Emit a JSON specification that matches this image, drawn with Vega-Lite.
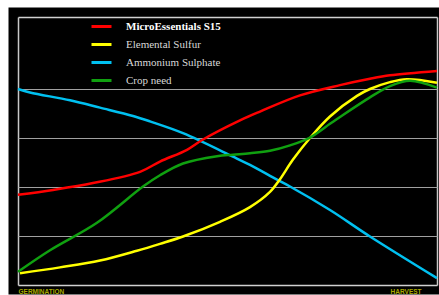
{
  "$schema": "https://vega.github.io/schema/vega-lite/v6.json",
  "width": 419,
  "height": 268,
  "autosize": {"type": "none"},
  "padding": {"left": 18, "top": 17, "right": 2, "bottom": 10},
  "background": "white",
  "config": {"view": {"fill": "black", "stroke": "black", "strokeWidth": 19}},
  "data": {"values": [
    {"series": "Ammonium Sulphate", "t": 0, "v": 4.0},
    {"series": "Ammonium Sulphate", "t": 2.86, "v": 3.93},
    {"series": "Ammonium Sulphate", "t": 12.41, "v": 3.77},
    {"series": "Ammonium Sulphate", "t": 19.57, "v": 3.62},
    {"series": "Ammonium Sulphate", "t": 27.45, "v": 3.45},
    {"series": "Ammonium Sulphate", "t": 31.5, "v": 3.34},
    {"series": "Ammonium Sulphate", "t": 39.38, "v": 3.1},
    {"series": "Ammonium Sulphate", "t": 51.31, "v": 2.62},
    {"series": "Ammonium Sulphate", "t": 55.37, "v": 2.45},
    {"series": "Ammonium Sulphate", "t": 61.81, "v": 2.15},
    {"series": "Ammonium Sulphate", "t": 64.92, "v": 2.01},
    {"series": "Ammonium Sulphate", "t": 74.46, "v": 1.53},
    {"series": "Ammonium Sulphate", "t": 84.0, "v": 0.99},
    {"series": "Ammonium Sulphate", "t": 100, "v": 0.14},
    {"series": "MicroEssentials S15", "t": 0, "v": 1.84},
    {"series": "MicroEssentials S15", "t": 8.35, "v": 1.94},
    {"series": "MicroEssentials S15", "t": 17.9, "v": 2.08},
    {"series": "MicroEssentials S15", "t": 29.12, "v": 2.31},
    {"series": "MicroEssentials S15", "t": 33.89, "v": 2.52},
    {"series": "MicroEssentials S15", "t": 40.33, "v": 2.76},
    {"series": "MicroEssentials S15", "t": 44.15, "v": 2.97},
    {"series": "MicroEssentials S15", "t": 52.98, "v": 3.36},
    {"series": "MicroEssentials S15", "t": 57.76, "v": 3.54},
    {"series": "MicroEssentials S15", "t": 67.3, "v": 3.87},
    {"series": "MicroEssentials S15", "t": 76.85, "v": 4.08},
    {"series": "MicroEssentials S15", "t": 84.0, "v": 4.21},
    {"series": "MicroEssentials S15", "t": 88.78, "v": 4.28},
    {"series": "MicroEssentials S15", "t": 100, "v": 4.37},
    {"series": "Elemental Sulfur", "t": 0.48, "v": 0.24},
    {"series": "Elemental Sulfur", "t": 10.02, "v": 0.36},
    {"series": "Elemental Sulfur", "t": 19.57, "v": 0.5},
    {"series": "Elemental Sulfur", "t": 28.4, "v": 0.7},
    {"series": "Elemental Sulfur", "t": 33.89, "v": 0.84},
    {"series": "Elemental Sulfur", "t": 39.38, "v": 0.99},
    {"series": "Elemental Sulfur", "t": 48.21, "v": 1.29},
    {"series": "Elemental Sulfur", "t": 55.37, "v": 1.59},
    {"series": "Elemental Sulfur", "t": 60.14, "v": 1.9},
    {"series": "Elemental Sulfur", "t": 62.53, "v": 2.16},
    {"series": "Elemental Sulfur", "t": 65.63, "v": 2.56},
    {"series": "Elemental Sulfur", "t": 69.69, "v": 3.0},
    {"series": "Elemental Sulfur", "t": 74.46, "v": 3.44},
    {"series": "Elemental Sulfur", "t": 80.9, "v": 3.86},
    {"series": "Elemental Sulfur", "t": 84.0, "v": 4.0},
    {"series": "Elemental Sulfur", "t": 88.78, "v": 4.14},
    {"series": "Elemental Sulfur", "t": 92.84, "v": 4.2},
    {"series": "Elemental Sulfur", "t": 100, "v": 4.13},
    {"series": "Crop need", "t": 0, "v": 0.27},
    {"series": "Crop need", "t": 7.64, "v": 0.71},
    {"series": "Crop need", "t": 18.85, "v": 1.27},
    {"series": "Crop need", "t": 29.83, "v": 2.01},
    {"series": "Crop need", "t": 33.89, "v": 2.24},
    {"series": "Crop need", "t": 39.38, "v": 2.48},
    {"series": "Crop need", "t": 47.49, "v": 2.63},
    {"series": "Crop need", "t": 51.31, "v": 2.66},
    {"series": "Crop need", "t": 55.37, "v": 2.69},
    {"series": "Crop need", "t": 60.14, "v": 2.74},
    {"series": "Crop need", "t": 64.92, "v": 2.85},
    {"series": "Crop need", "t": 69.69, "v": 3.01},
    {"series": "Crop need", "t": 74.46, "v": 3.29},
    {"series": "Crop need", "t": 76.85, "v": 3.43},
    {"series": "Crop need", "t": 84.0, "v": 3.83},
    {"series": "Crop need", "t": 88.78, "v": 4.06},
    {"series": "Crop need", "t": 93.56, "v": 4.17},
    {"series": "Crop need", "t": 100, "v": 4.03}
  ]},
  "mark": {"type": "line", "interpolate": "catmull-rom", "strokeWidth": 2.5},
  "encoding": {
    "x": {
      "field": "t", "type": "quantitative",
      "scale": {"domain": [0, 100], "nice": false, "zero": false},
      "axis": {
        "title": null,
        "values": [0, 92.5, 100],
        "labelExpr": "datum.value == 0 ? 'GERMINATION' : (datum.value == 100 ? '' : 'HARVEST')",
        "domain": false, "ticks": false, "grid": true,
        "gridColor": {"condition": {"test": "datum.value == 92.5", "value": "transparent"}, "value": "#c8c8c8"},
        "gridWidth": 1.5,
        "labelAlign": {"condition": {"test": "datum.value == 0", "value": "left"}, "value": "center"},
        "labelBaseline": "top", "labelPadding": 3,
        "labelFont": "Liberation Sans", "labelFontSize": 6.5, "labelFontWeight": "bold",
        "labelColor": "#a8a800",
        "labelOverlap": false, "labelFlush": false, "labelBound": false
      }
    },
    "y": {
      "field": "v", "type": "quantitative",
      "scale": {"domain": [0, 5.47], "nice": false},
      "axis": {
        "title": null,
        "values": [0, 1, 2, 3, 4, 5.47],
        "labels": false, "ticks": false, "domain": false, "grid": true,
        "gridColor": {"condition": {"test": "datum.value == 0 || datum.value > 5", "value": "#d0d0d0"}, "value": "#a0a0a0"},
        "gridWidth": {"condition": {"test": "datum.value == 0 || datum.value > 5", "value": 1.5}, "value": 1.2}
      }
    },
    "color": {
      "field": "series", "type": "nominal",
      "scale": {
        "domain": ["MicroEssentials S15", "Elemental Sulfur", "Ammonium Sulphate", "Crop need"],
        "range": ["#ff0000", "#ffff00", "#00c0f0", "#10a010"]
      },
      "legend": {
        "title": null, "orient": "none", "legendX": 72, "legendY": -2,
        "symbolType": "stroke", "symbolSize": 400, "symbolStrokeWidth": 3,
        "labelFont": "Liberation Serif", "labelFontSize": 11,
        "labelColor": {"expr": "datum.value == 'MicroEssentials S15' ? '#ffffff' : '#d8d8d8'"},
        "labelFontWeight": {"expr": "datum.value == 'MicroEssentials S15' ? 'bold' : 'normal'"},
        "labelOffset": 13, "rowPadding": -3, "padding": 0, "labelLimit": 300
      }
    }
  }
}
